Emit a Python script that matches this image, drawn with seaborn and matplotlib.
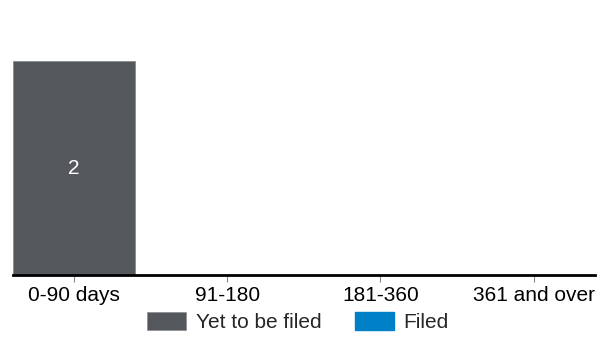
import numpy as np
import pandas as pd
import matplotlib.pyplot as plt
import seaborn as sns
from matplotlib.patches import Patch

categories = ["0-90 days", "91-180", "181-360", "361 and over"]
yet_to_be_filed = [2, 0, 0, 0]
filed = [0, 0, 0, 0]

COL_YET = "#54575b"
COL_FILED = "#0080c6"

sns.set_theme(style="white")
plt.rcParams["font.family"] = ["Liberation Sans", "DejaVu Sans"]

df = pd.DataFrame({"category": categories, "yet": yet_to_be_filed, "filed": filed})
df["total"] = df["yet"] + df["filed"]

fig = plt.figure(figsize=(6.14, 3.49), dpi=100)
ax = fig.add_axes([0.0205, 0.212, 0.9485, 0.766])

# stacked: draw totals (filed colour) first, then the lower segment on top
sns.barplot(data=df, x="category", y="total", color=COL_FILED, saturation=1,
            width=0.8, ax=ax)
sns.barplot(data=df, x="category", y="yet", color=COL_YET, saturation=1,
            width=0.8, ax=ax, edgecolor="#8a8c8f", linewidth=0.6)

for i, v in enumerate(yet_to_be_filed):
    if v > 0:
        ax.text(i, v / 2, f"{v}", ha="center", va="center", color="white",
                fontsize=15)

ax.set_xlim(-0.4, 3.4)
ax.set_ylim(0, 2.5)
ax.set_xlabel("")
ax.set_ylabel("")
ax.set_yticks([])
for s in ("top", "right", "left"):
    ax.spines[s].set_visible(False)
ax.spines["bottom"].set_color("black")
ax.spines["bottom"].set_linewidth(2)
ax.tick_params(axis="x", which="both", bottom=True, length=5, width=0.8,
               color="#888888", labelsize=15, pad=3, labelcolor="black")

handles = [Patch(facecolor=COL_YET, edgecolor="#8a8c8f", linewidth=0.5),
           Patch(facecolor=COL_FILED, edgecolor="#0080c6")]
fig.legend(handles, ["Yet to be filed", "Filed"], loc="center",
           bbox_to_anchor=(0.485, 0.077), ncol=2, frameon=False,
           fontsize=15, handlelength=1.9, handleheight=0.95,
           handletextpad=0.45, columnspacing=1.6)

fig.savefig("out.png", dpi=100)
